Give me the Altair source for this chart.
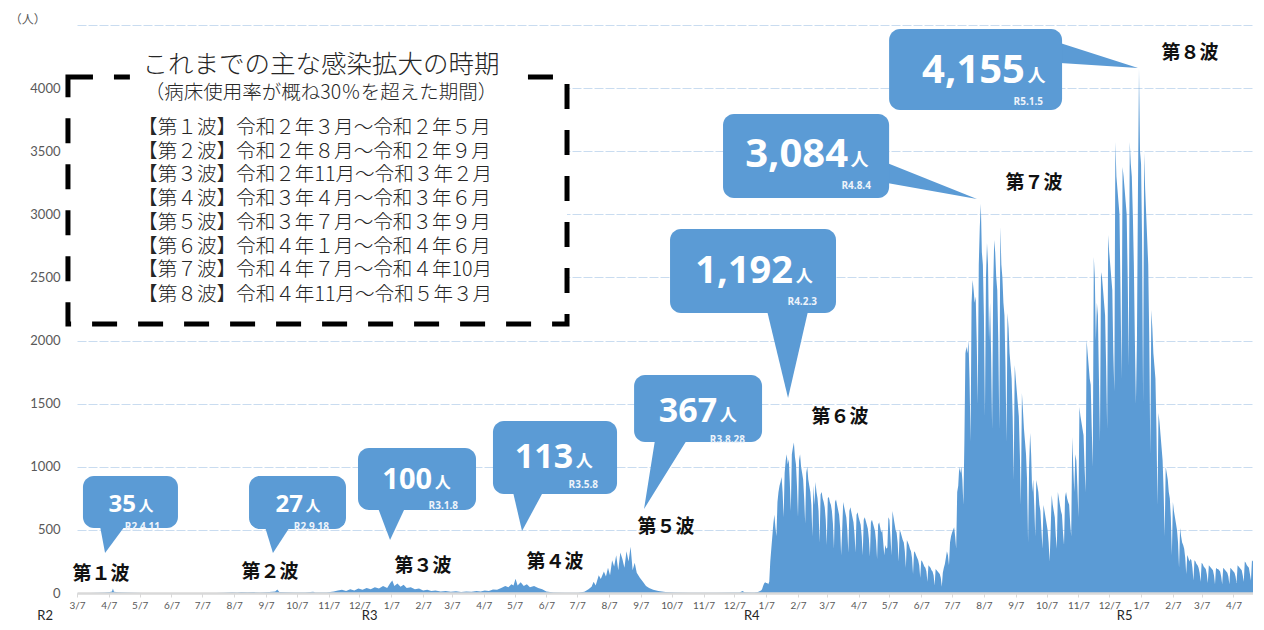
import altair as alt
import pandas as pd

# ---------------- data ----------------
BASE = pd.Timestamp("2020-03-07")
DAY_MS = 86400000
BASE_MS = int(BASE.value // 10**6)
DOMAIN_DAYS = 1145  # plot ends 2023-04-26


def ms(d):
    return BASE_MS + d * DAY_MS


def ms_date(s):
    return int(pd.Timestamp(s).value // 10**6)


early_dates = [
    "2020-03-07", "2020-03-20", "2020-03-28", "2020-04-03", "2020-04-08", "2020-04-10",
    "2020-04-11", "2020-04-12", "2020-04-16", "2020-04-22", "2020-05-01", "2020-05-10",
    "2020-07-20", "2020-07-28", "2020-08-05", "2020-08-10", "2020-08-14", "2020-08-20",
    "2020-08-26", "2020-09-01", "2020-09-10", "2020-09-16", "2020-09-18", "2020-09-20",
    "2020-09-26", "2020-10-05", "2020-10-15", "2020-10-23", "2020-10-25", "2020-11-05",
    "2020-11-12", "2020-11-16", "2020-11-20", "2020-11-24", "2020-11-28", "2020-12-02",
    "2020-12-06", "2020-12-10", "2020-12-14", "2020-12-18", "2020-12-22", "2020-12-26",
    "2020-12-30", "2021-01-03", "2021-01-06", "2021-01-08", "2021-01-10", "2021-01-13",
    "2021-01-16", "2021-01-19", "2021-01-22", "2021-01-26", "2021-01-30", "2021-02-03",
    "2021-02-07", "2021-02-11", "2021-02-15", "2021-02-19", "2021-02-24", "2021-03-01",
    "2021-03-06", "2021-03-11", "2021-03-16", "2021-03-21", "2021-03-26", "2021-03-31",
    "2021-04-04", "2021-04-08", "2021-04-12", "2021-04-16", "2021-04-20", "2021-04-24",
    "2021-04-28", "2021-05-01", "2021-05-04", "2021-05-06", "2021-05-08", "2021-05-10",
    "2021-05-13", "2021-05-16", "2021-05-19", "2021-05-22", "2021-05-26", "2021-05-30",
    "2021-06-03", "2021-06-07", "2021-06-14", "2021-06-25", "2021-07-08", "2021-07-14",
    "2021-07-18", "2021-07-21", "2021-07-23", "2021-07-25", "2021-07-28", "2021-07-30",
    "2021-08-02", "2021-08-04", "2021-08-06", "2021-08-08", "2021-08-10", "2021-08-12",
    "2021-08-14", "2021-08-16", "2021-08-18", "2021-08-20", "2021-08-22", "2021-08-24",
    "2021-08-26", "2021-08-28", "2021-08-30", "2021-09-01", "2021-09-03", "2021-09-06",
    "2021-09-09", "2021-09-12", "2021-09-15", "2021-09-19", "2021-09-24", "2021-10-01",
    "2021-10-10", "2021-10-25", "2021-11-20", "2021-12-05", "2021-12-12", "2021-12-15",
    "2021-12-17", "2021-12-24",
]
early_cases = [
    0, 0, 2, 4, 8, 12,
    35, 10, 6, 4, 1, 0,
    0, 2, 6, 3, 8, 5,
    7, 4, 8, 12, 27, 8,
    5, 3, 4, 10, 3, 4,
    12, 20, 25, 15, 30, 20,
    35, 25, 40, 30, 45, 35,
    55, 40, 80, 100, 55, 75,
    50, 65, 40, 45, 30, 35,
    20, 25, 15, 20, 12, 15,
    10, 14, 8, 12, 10, 16,
    12, 20, 15, 28, 25, 40,
    55, 45, 70, 60, 113, 60,
    85, 55, 70, 45, 55, 40,
    30, 12, 4, 1, 2, 10,
    30, 50, 90, 60, 140, 110,
    170, 130, 200, 140, 260, 210,
    300, 180, 320, 270, 200, 330,
    250, 367, 180, 240, 160, 120,
    90, 55, 40, 25, 15, 8,
    3, 1, 1, 3, 4, 15,
    5, 4,
]

# daily values (Mon..Sun) from 2021-12-27
daily_start = "2021-12-27"
weekly_cases = [
    [3, 5, 6, 8, 12, 15, 20],
    [30, 55, 75, 85, 80, 80, 70],
    [90, 250, 350, 450, 550, 620, 520],
    [450, 720, 800, 850, 880, 920, 800],
    [600, 950, 1050, 1100, 1020, 1060, 880],
    [650, 1100, 1150, 1192, 1080, 1020, 850],
    [600, 1050, 1100, 1000, 950, 900, 750],
    [550, 950, 1000, 900, 850, 800, 700],
    [450, 850, 700, 880, 800, 750, 650],
    [400, 780, 800, 750, 720, 680, 580],
    [380, 750, 760, 720, 700, 650, 550],
    [350, 720, 740, 700, 660, 620, 520],
    [300, 500, 720, 680, 640, 600, 500],
    [320, 650, 680, 640, 600, 560, 470],
    [320, 620, 640, 600, 570, 540, 450],
    [300, 580, 600, 570, 540, 510, 430],
    [290, 560, 580, 550, 520, 490, 410],
    [270, 540, 560, 520, 480, 500, 400],
    [300, 380, 350, 360, 600, 580, 450],
    [300, 650, 600, 550, 500, 480, 400],
    [250, 500, 480, 450, 420, 400, 330],
    [200, 420, 400, 380, 350, 330, 280],
    [150, 330, 320, 300, 280, 260, 220],
    [120, 260, 250, 230, 210, 200, 170],
    [90, 220, 210, 200, 180, 170, 140],
    [60, 190, 180, 170, 160, 150, 120],
    [50, 160, 200, 230, 280, 330, 300],
    [220, 400, 450, 480, 500, 520, 450],
    [350, 800, 850, 1000, 950, 1000, 900],
    [700, 1200, 1900, 1950, 1900, 2000, 1700],
    [1200, 2300, 2480, 2400, 2300, 2350, 2000],
    [1500, 2600, 2900, 3084, 2700, 2600, 2200],
    [1400, 2500, 2773, 2600, 2000, 2300, 1900],
    [1300, 2400, 2797, 2700, 2500, 2400, 2000],
    [1300, 2900, 2600, 2500, 2300, 2200, 1800],
    [1200, 2218, 2100, 1900, 1800, 1700, 1400],
    [900, 1806, 1700, 1600, 1500, 1400, 1100],
    [700, 1585, 1450, 1300, 1200, 1100, 900],
    [400, 1000, 1268, 1100, 800, 900, 700],
    [450, 895, 850, 800, 700, 650, 500],
    [350, 697, 650, 600, 550, 500, 400],
    [250, 500, 776, 700, 650, 600, 450],
    [350, 800, 750, 700, 650, 620, 480],
    [380, 760, 800, 750, 720, 700, 550],
    [450, 1236, 1000, 800, 1100, 1050, 850],
    [600, 1474, 1400, 1350, 1300, 1250, 1000],
    [800, 2005, 1900, 1800, 1700, 1650, 1300],
    [1000, 2662, 2500, 2000, 2300, 2200, 1700],
    [1200, 2543, 2500, 2400, 2300, 2200, 1800],
    [1300, 2836, 2700, 2600, 2500, 2400, 1900],
    [1600, 3573, 3300, 3200, 3100, 3000, 2400],
    [1700, 3375, 3300, 3200, 3100, 3000, 2500],
    [1800, 3573, 3400, 3300, 3000, 2600, 2000],
    [1500, 2000, 3200, 4155, 3500, 3400, 2800],
    [1500, 3486, 3200, 3000, 2800, 2600, 2000],
    [1100, 2242, 2100, 1900, 1800, 1700, 1300],
    [700, 1426, 1350, 1250, 1150, 1050, 800],
    [450, 998, 950, 900, 800, 750, 600],
    [300, 721, 650, 600, 550, 500, 400],
    [200, 515, 450, 400, 380, 350, 280],
    [150, 301, 280, 250, 270, 260, 200],
    [100, 260, 250, 230, 220, 200, 160],
    [90, 240, 230, 210, 200, 190, 150],
    [80, 220, 210, 200, 190, 180, 140],
    [70, 200, 190, 190, 180, 170, 130],
    [70, 200, 190, 180, 170, 160, 130],
    [70, 200, 190, 180, 170, 160, 130],
    [80, 220, 210, 200, 190, 180, 140],
    [90, 250, 240, 220, 210, 200, 150],
    [100, 260, 250],
]

rows = [{"t": ms_date(d), "v": v} for d, v in zip(early_dates, early_cases)]
start = pd.Timestamp(daily_start)
for i, wk in enumerate(weekly_cases):
    for j, v in enumerate(wk):
        day = start + pd.Timedelta(days=7 * i + j)
        rows.append({"t": int(day.value // 10**6), "v": v})
series = pd.DataFrame(rows)

# callout annotations
callout_values = ["35", "27", "100", "113", "367", "1,192", "3,084", "4,155"]
callout_dates = ["R2.4.11", "R2.9.18", "R3.1.8", "R3.5.8", "R3.8.28", "R4.2.3", "R4.8.4", "R5.1.5"]
callout_geom = [
    dict(box=(5.8, 98.3, 927, 515), tail=[(22.4, 530), (46.7, 530), (27.3, 317)],
         num=(57.4, 642), fs=24, rfs=15, date=(80.8, 499)),
    dict(box=(167.5, 261.9, 927, 507), tail=[(183, 525), (207.4, 525), (190.8, 317)],
         num=(220, 642), fs=24, rfs=15, date=(245.4, 499)),
    dict(box=(273.6, 388.5, 1149, 658), tail=[(293, 675), (319.4, 675), (304.8, 420)],
         num=(345.7, 824), fs=29, rfs=16, date=(371, 666)),
    dict(box=(405, 525.8, 1363, 784), tail=[(424.5, 800), (453.8, 800), (433.3, 491)],
         num=(483, 990), fs=34, rfs=17, date=(507.3, 832)),
    dict(box=(542.4, 667, 1727, 1196), tail=[(562.8, 1215), (594, 1215), (552.1, 665)],
         num=(623.2, 1355), fs=34, rfs=17, date=(650.4, 1188)),
    dict(box=(577.4, 739, 2884, 2218), tail=[(671.9, 2235), (711.8, 2235), (692.3, 1545)],
         num=(697.2, 2456), fs=38, rfs=17, date=(720.5, 2282)),
    dict(box=(629, 790.7, 3795, 3129), tail=[(788.7, 3407), (788.8, 3248), (876.3, 3122)],
         num=(750.7, 3375), fs=40, rfs=18, date=(773, 3201)),
    dict(box=(790.7, 959.1, 4468, 3827), tail=[(957.1, 4357), (957.2, 4199), (1033.1, 4159)],
         num=(923, 4041), fs=40, rfs=18, date=(940.6, 3866)),
]

wave_labels = ["第１波", "第２波", "第３波", "第４波", "第５波", "第６波", "第７波", "第８波"]
wave_pos = [(23.4, 150), (188, 166), (337, 214), (465.4, 246), (573.5, 523),
            (743, 1394), (931.8, 3248), (1083.7, 4278)]

legend_title = "これまでの主な感染拡大の時期"
legend_sub = "（病床使用率が概ね30％を超えた期間）"
legend_lines = [
    "【第１波】令和２年３月～令和２年５月",
    "【第２波】令和２年８月～令和２年９月",
    "【第３波】令和２年11月～令和３年２月",
    "【第４波】令和３年４月～令和３年６月",
    "【第５波】令和３年７月～令和３年９月",
    "【第６波】令和４年１月～令和４年６月",
    "【第７波】令和４年７月～令和４年10月",
    "【第８波】令和４年11月～令和５年３月",
]
legend_line_v = [3684, 3494, 3312, 3122, 2931, 2741, 2559, 2361]

era_labels = ["R2", "R3", "R4", "R5"]
era_pos = [(-31, -180), (285, -180), (657, -180), (1020, -180)]

tick_dates = [d + pd.Timedelta(days=6) for d in pd.date_range("2020-03-01", "2023-04-01", freq="MS")]
tick_ms = [int(d.value // 10**6) for d in tick_dates]

# ---------------- encodings ----------------
BLUE = "#5b9bd5"
xscale = alt.Scale(type="utc", domain=[ms(0), ms(DOMAIN_DAYS)])
yscale = alt.Scale(domain=[0, 4500], nice=False, zero=True)
xaxis = alt.Axis(values=tick_ms, labelExpr="utcFormat(datum.value, '%-m/%-d')", title=None,
                 grid=False, domainColor="#d9d9d9", domainWidth=2.5, tickColor="#d9d9d9",
                 tickSize=4, labelColor="#595959", labelFontSize=10, labelFont="Lato",
                 labelPadding=3, labelAngle=0, labelOverlap=False, labelFlush=False,
                 labelBound=False, zindex=1)
yaxis = alt.Axis(values=list(range(0, 5000, 500)), format="d",
                 labelExpr="datum.value >= 4500 ? '' : datum.label",
                 grid=True, gridColor="#c9dcf0", gridDash=[9, 2], gridWidth=1,
                 domain=False, ticks=False, labelColor="#595959", labelFontSize=13,
                 labelFont="Lato", labelPadding=17, title=None, zindex=0)


def X(f):
    return alt.X(f, type="temporal", scale=xscale, axis=xaxis)


def Y(f):
    return alt.Y(f, type="quantitative", scale=yscale, axis=yaxis, stack=None)


area = alt.Chart(series).mark_area(color=BLUE, clip=True, interpolate="linear").encode(
    x=X("t"), y=Y("v"))

# legend box
box_df = pd.DataFrame([{"t": ms(-8.8), "t2": ms(477.1), "v": 4088, "v2": 2131}])
legend_box = alt.Chart(box_df).mark_rect(fill="white", stroke="black", strokeWidth=5,
                                         strokeDash=[25, 21]).encode(
    x=X("t"), x2="t2", y=Y("v"), y2="v2")
back_df = pd.DataFrame([{"t": ms(51.5), "t2": ms(426.5), "v": 4130, "v2": 4045}])
legend_back = alt.Chart(back_df).mark_rect(fill="white").encode(
    x=X("t"), x2="t2", y=Y("v"), y2="v2")
title_df = pd.DataFrame([
    {"t": ms(237.6), "v": 4183, "label": legend_title, "fs": 25.5},
    {"t": ms(237.6), "v": 3961, "label": legend_sub, "fs": 19.5},
])
legend_title_t = alt.Chart(title_df).mark_text(font="Noto Sans CJK JP", color="#262626",
                                               fontWeight=300, align="center",
                                               baseline="middle").encode(
    x=X("t"), y=Y("v"), text="label:N", size=alt.Size("fs:Q", scale=None, legend=None))
lines_df = pd.DataFrame({"t": [ms(59.5)] * len(legend_lines), "v": legend_line_v,
                         "label": legend_lines})
legend_lines_t = alt.Chart(lines_df).mark_text(font="Noto Sans CJK JP", color="#262626",
                                               fontWeight=300, fontSize=19.6, align="left",
                                               baseline="middle").encode(
    x=X("t"), y=Y("v"), text="label:N")

# callouts
box_rows, tail_rows, num_rows, ren_rows, date_rows = [], [], [], [], []
for i, (val, dl, g) in enumerate(zip(callout_values, callout_dates, callout_geom)):
    d0, d1, v0, v1 = g["box"]
    box_rows.append({"t": ms(d0), "t2": ms(d1), "v": v0, "v2": v1})
    pts = sorted(g["tail"], key=lambda p: p[0])
    (x1, y1), (x2, y2), (x3, y3) = pts
    ye = y1 + (y3 - y1) * (x2 - x1) / (x3 - x1)
    tail_rows += [
        {"id": i, "t": ms(x1), "v": y1, "v2": y1},
        {"id": i, "t": ms(x2), "v": y2, "v2": ye},
        {"id": i, "t": ms(x3), "v": y3, "v2": y3},
    ]
    nd, nv = g["num"]
    num_rows.append({"t": ms(nd), "v": nv, "label": val, "fs": g["fs"]})
    ren_rows.append({"t": ms(nd + 2.5), "v": nv + 6, "label": "人", "fs": g["rfs"]})
    dd, dv = g["date"]
    date_rows.append({"t": ms(dd), "v": dv, "label": dl})

boxes = alt.Chart(pd.DataFrame(box_rows)).mark_rect(fill=BLUE, cornerRadius=11).encode(
    x=X("t"), x2="t2", y=Y("v"), y2="v2")
tails = alt.Chart(pd.DataFrame(tail_rows)).mark_area(color=BLUE, interpolate="linear").encode(
    x=X("t"), y=Y("v"), y2="v2", detail="id:N")
nums = alt.Chart(pd.DataFrame(num_rows)).mark_text(font="Open Sans", fontWeight="bold",
                                                   color="white", align="right",
                                                   baseline="alphabetic").encode(
    x=X("t"), y=Y("v"), text="label:N", size=alt.Size("fs:Q", scale=None, legend=None))
rens = alt.Chart(pd.DataFrame(ren_rows)).mark_text(font="Noto Sans CJK JP", fontWeight="bold",
                                                   color="white", align="left",
                                                   baseline="alphabetic").encode(
    x=X("t"), y=Y("v"), text="label:N", size=alt.Size("fs:Q", scale=None, legend=None))
dates_t = alt.Chart(pd.DataFrame(date_rows)).mark_text(font="Open Sans", fontWeight="bold",
                                                       color="#eef4fb", fontSize=10,
                                                       align="right",
                                                       baseline="alphabetic").encode(
    x=X("t"), y=Y("v"), text="label:N")

# wave labels
wave_df = pd.DataFrame({"t": [ms(p[0]) for p in wave_pos], "v": [p[1] for p in wave_pos],
                        "label": wave_labels})
waves = alt.Chart(wave_df).mark_text(font="Noto Sans CJK JP", fontWeight="bold", fontSize=19,
                                     color="#111111", align="center",
                                     baseline="middle").encode(
    x=X("t"), y=Y("v"), text="label:N")

# era + unit labels
era_df = pd.DataFrame({"t": [ms(p[0]) for p in era_pos], "v": [p[1] for p in era_pos],
                       "label": era_labels})
eras = alt.Chart(era_df).mark_text(font="Lato", fontSize=13, color="#262626",
                                   align="center", baseline="middle").encode(
    x=X("t"), y=Y("v"), text="label:N")
unit_df = pd.DataFrame([{"t": ms(-48.0), "v": 4540, "label": "（人）"}])
unit = alt.Chart(unit_df).mark_text(font="Noto Sans CJK JP", fontSize=12, color="#595959",
                                    align="center", baseline="middle").encode(
    x=X("t"), y=Y("v"), text="label:N")

chart = alt.layer(
    area, legend_box, legend_back, legend_title_t, legend_lines_t,
    tails, boxes, nums, rens, dates_t, waves, eras, unit,
).properties(
    width=1176, height=568,
    autosize=alt.AutoSizeParams(type="none"),
    padding={"left": 69, "top": 17, "right": 0, "bottom": 29},
    background="white",
).configure_view(stroke=None)

chart.save("out.html", embed_options={"renderer": "svg", "actions": False})
